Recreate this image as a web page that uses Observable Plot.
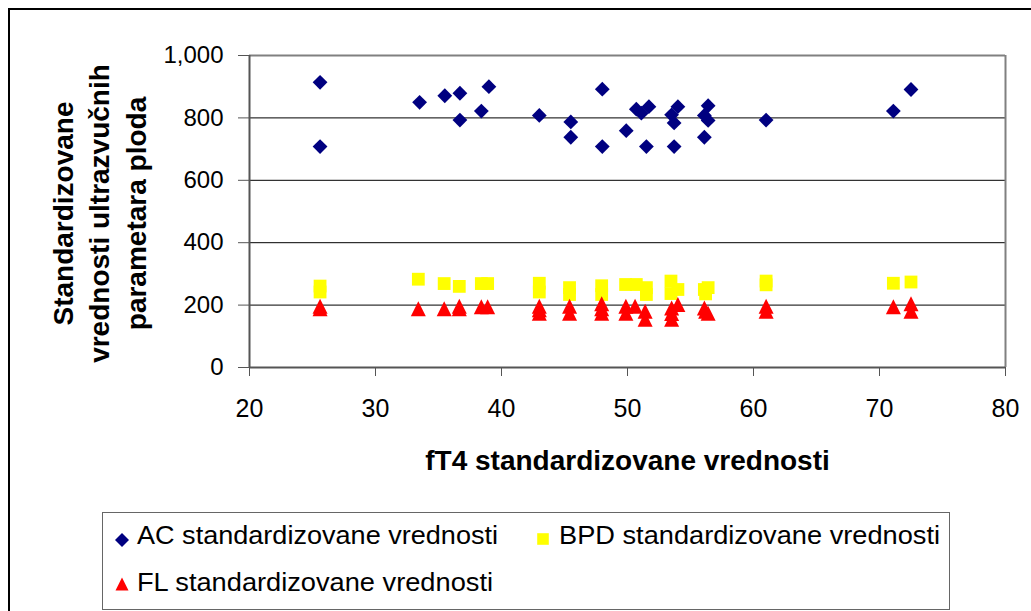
<!DOCTYPE html>
<html>
<head>
<meta charset="utf-8">
<script src="https://cdn.jsdelivr.net/npm/d3@7"></script>
<script src="https://cdn.jsdelivr.net/npm/@observablehq/plot@0.6"></script>
<style>
  html, body { margin: 0; padding: 0; background: #fff; }
  #wrap { position: relative; width: 1031px; height: 611px; overflow: hidden; font-family: "Liberation Sans", Arial, sans-serif; }
  #outer { position: absolute; left: 8px; top: 8px; width: 1040px; height: 620px; border: 2px solid #000; box-sizing: border-box; }
  #chart { position: absolute; left: 0; top: 0; }
  #legend { position: absolute; left: 102px; top: 512px; width: 848px; height: 98px; border: 1.5px solid #666; box-sizing: border-box; background: #fff; }
</style>
</head>
<body>
<div id="wrap">
  <div id="outer"></div>
  <div id="chart"></div>
  <div id="legend"></div>
</div>
<script>
// ---- data ----
const seriesNames = ["AC standardizovane vrednosti", "BPD standardizovane vrednosti", "FL standardizovane vrednosti"];
const xTicks = [20, 30, 40, 50, 60, 70, 80];
const yTicks = [0, 200, 400, 600, 800, 1000];
const xTitle = "fT4 standardizovane vrednosti";
const yTitle = "Standardizovane\nvrednosti ultrazvučnih\nparametara ploda";

const acX = [25.6, 25.6, 33.5, 35.5, 36.7, 36.7, 38.4, 39.0, 43.0, 45.5, 45.5, 48.0, 48.0, 49.9, 50.7, 51.1, 51.7, 51.5, 53.5, 54.0, 53.7, 53.7, 56.4, 56.1, 56.4, 56.1, 61.0, 71.1, 72.5];
const acY = [914, 708, 850, 871, 879, 793, 822, 900, 808, 787, 738, 892, 708, 759, 828, 815, 836, 708, 810, 836, 784, 708, 839, 808, 792, 738, 793, 822, 891];

const bpdX = [25.6, 25.6, 33.4, 35.45, 36.65, 38.4, 38.9, 43.0, 43.0, 45.4, 45.4, 47.95, 47.95, 49.85, 50.7, 51.5, 51.5, 53.45, 53.45, 54.0, 56.1, 56.4, 56.2, 61.0, 61.0, 71.1, 72.5];
const bpdY = [261, 242, 283, 269, 260, 269, 269, 270, 242, 256, 234, 262, 234, 266, 266, 256, 234, 277, 237, 250, 250, 256, 236, 277, 265, 270, 274];

const flX = [25.6, 25.6, 33.4, 35.45, 36.65, 36.65, 38.4, 38.9, 43.0, 43.0, 43.0, 45.4, 45.4, 47.95, 47.95, 47.95, 49.87, 49.87, 50.6, 51.4, 51.4, 53.5, 53.5, 53.5, 54.0, 56.1, 56.4, 56.2, 61.0, 61.0, 71.1, 72.5, 72.5];
const flY = [196, 188, 188, 188, 196, 188, 195, 195, 196, 185, 174, 196, 174, 204, 188, 174, 196, 174, 196, 180, 155, 191, 173, 155, 202, 191, 174, 180, 196, 180, 195, 204, 180];

const colors = ["#000080", "#FFFF00", "#FF0000"];

// ---- Excel-like marker shapes (centered on bounding box) ----
const diamondSym = {draw(ctx, size) { const r = Math.sqrt(size / Math.PI); ctx.moveTo(0, -r); ctx.lineTo(r, 0); ctx.lineTo(0, r); ctx.lineTo(-r, 0); ctx.closePath(); }};
const squareSym = {draw(ctx, size) { const r = Math.sqrt(size / Math.PI); ctx.rect(-r, -r, 2 * r, 2 * r); }};
const triangleSym = {draw(ctx, size) { const r = Math.sqrt(size / Math.PI); ctx.moveTo(0, -r); ctx.lineTo(r, r); ctx.lineTo(-r, r); ctx.closePath(); }};

const ac = acX.map((x, i) => ({x, y: acY[i]}));
const bpd = bpdX.map((x, i) => ({x, y: bpdY[i]}));
const fl = flX.map((x, i) => ({x, y: flY[i]}));

const chart = Plot.plot({
  width: 1031,
  height: 500,
  marginLeft: 249,
  marginRight: 26,
  marginTop: 55,
  marginBottom: 133,
  style: {fontFamily: "'Liberation Sans', Arial, sans-serif", fontSize: "24px", background: "transparent", color: "black"},
  x: {domain: [20, 80]},
  y: {domain: [0, 1000]},
  marks: [
    Plot.ruleY([200, 400, 600, 800], {stroke: "#000", strokeWidth: 1}),
    Plot.ruleY([1000], {stroke: "#808080", strokeWidth: 2}),
    Plot.ruleX([80], {stroke: "#808080", strokeWidth: 2}),
    Plot.ruleX([20], {stroke: "#555", strokeWidth: 2}),
    Plot.ruleY([0], {stroke: "#555", strokeWidth: 2}),
    Plot.axisX({ticks: xTicks, tickSize: 9, tickPadding: 23, label: null, stroke: "#555", fill: "black", fontSize: 25}),
    Plot.axisY({ticks: yTicks, tickSize: 11, tickPadding: 15, label: null, tickFormat: d3.format(","), stroke: "#555", fill: "black", fontSize: 24}),
    Plot.dot(ac, {x: "x", y: "y", symbol: diamondSym, r: 7.4, fill: colors[0], stroke: "none"}),
    Plot.dot(bpd, {x: "x", y: "y", symbol: squareSym, r: 6.4, fill: colors[1], stroke: "none"}),
    Plot.dot(fl, {x: "x", y: "y", symbol: triangleSym, r: 7.5, fill: colors[2], stroke: "none"}),
    Plot.text([xTitle], {frameAnchor: "bottom", lineAnchor: "middle", dy: 94, fontWeight: "bold", fontSize: 28, fill: "black"}),
    Plot.text([yTitle], {frameAnchor: "left", rotate: -90, textAnchor: "middle", lineAnchor: "middle", lineHeight: 1.3, dx: -152, dy: 2, fontWeight: "bold", fontSize: 28, fill: "black"})
  ]
});
document.getElementById("chart").appendChild(chart);

// ---- legend ----
const ns = "http://www.w3.org/2000/svg";
const leg = document.createElementNS(ns, "svg");
leg.setAttribute("width", 845);
leg.setAttribute("height", 95);
leg.style.display = "block";
const items = [
  {name: seriesNames[0], sym: diamondSym, r: 7, color: colors[0], cx: 19, cy: 27, tx: 34, ty: 31, len: 361},
  {name: seriesNames[1], sym: squareSym, r: 5.8, color: colors[1], cx: 440, cy: 26, tx: 456, ty: 31, len: 381},
  {name: seriesNames[2], sym: triangleSym, r: 6.5, color: colors[2], cx: 19, cy: 71, tx: 34, ty: 78, len: 356}
];
for (const it of items) {
  const p = document.createElementNS(ns, "path");
  const path = d3.path();
  it.sym.draw(path, Math.PI * it.r * it.r);
  p.setAttribute("d", path.toString());
  p.setAttribute("transform", `translate(${it.cx},${it.cy})`);
  p.setAttribute("fill", it.color);
  leg.appendChild(p);
  const t = document.createElementNS(ns, "text");
  t.setAttribute("x", it.tx);
  t.setAttribute("y", it.ty);
  t.setAttribute("font-size", 25);
  t.setAttribute("font-family", "'Liberation Sans', Arial, sans-serif");
  t.setAttribute("textLength", it.len);
  t.setAttribute("lengthAdjust", "spacingAndGlyphs");
  t.textContent = it.name;
  leg.appendChild(t);
}
document.getElementById("legend").appendChild(leg);
</script>
</body>
</html>
